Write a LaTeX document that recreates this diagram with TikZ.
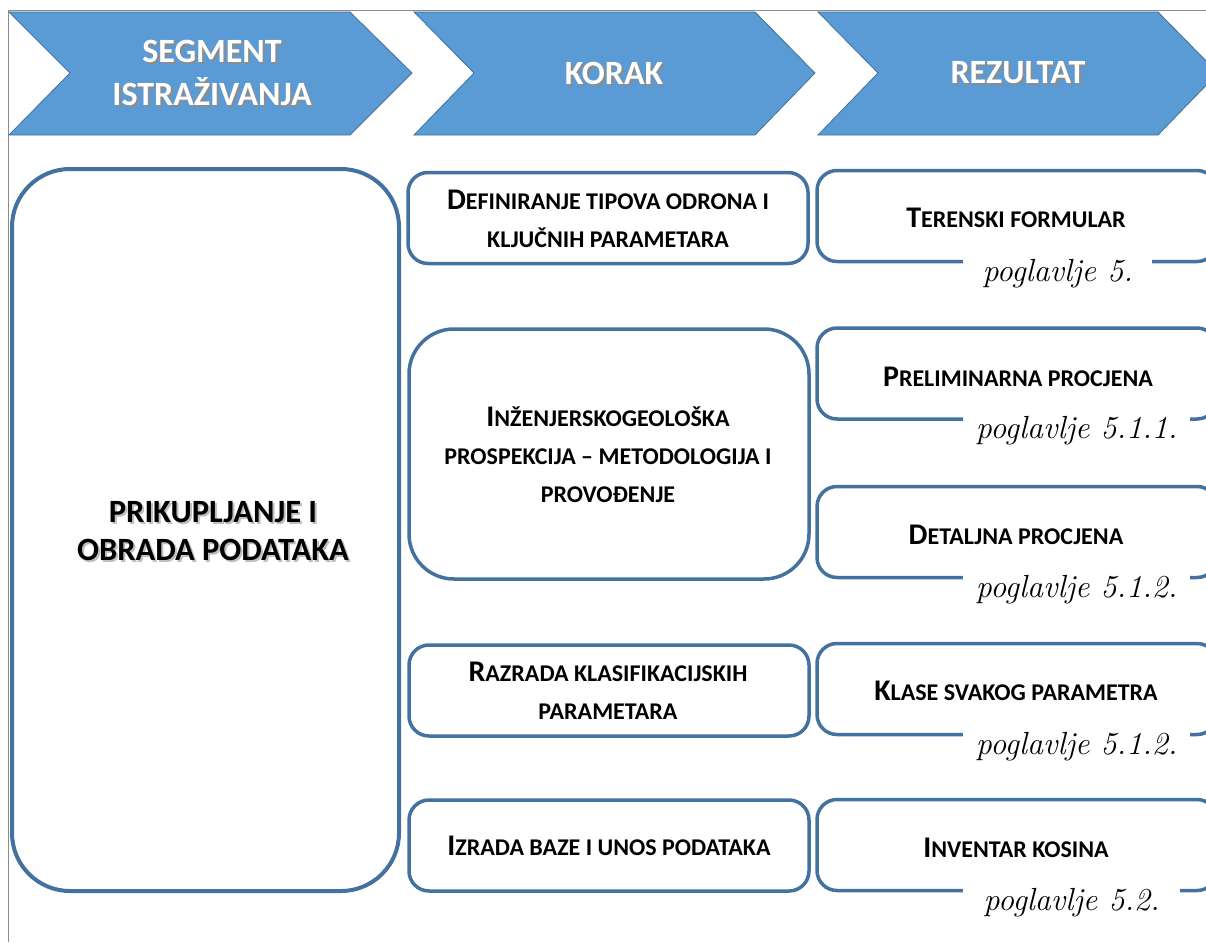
\documentclass[tikz,border=0pt]{standalone}
\usepackage{fontspec}
\newfontfamily\carl{Carlito}
\definecolor{chevfill}{RGB}{91,155,213}
\definecolor{chevline}{RGB}{65,113,156}
\definecolor{boxline}{RGB}{68,114,160}
\newcommand\bigC[1]{{\fontsize{30}{38}\selectfont #1}}
\tikzset{
 chevshape/.style={fill=chevfill, draw=chevline, line width=0.8pt},
 chevtxt/.style={text=white, font=\carl\bfseries\fontsize{34}{43}\selectfont, align=center, inner sep=0pt},
 chevshd/.style={chevtxt, text=black!45},
 bx/.style={draw=boxline, line width=3.5pt, rounded corners=20pt, fill=white, minimum width=400pt, minimum height=91pt, inner sep=0pt},
 bxtxt/.style={font=\carl\bfseries\fontsize{24}{38}\selectfont, align=center},
 segtxt/.style={font=\carl\bfseries\fontsize{32.5}{38}\selectfont, align=center, inner sep=0pt},
 chap/.style={font=\rmfamily\itshape\fontsize{32}{32}\selectfont, fill=white, inner xsep=0pt, inner ysep=5pt, anchor=base west},
 frame/.style={draw=black!45, line width=1pt},
}
\begin{document}
\begin{tikzpicture}[x=1pt,y=-1pt]
\useasboundingbox (0,0) rectangle (1206,942);
\clip (0,0) rectangle (1206,942);
\fill[white] (0,0) rectangle (1206,942);
\draw[frame] (8,942) -- (8,11) -- (1206,11);
% chevrons
\path[chevshape] (9,12) -- (350,12) -- (412,73) -- (350,135) -- (9,135) -- (70,73) -- cycle;
\path[chevshape] (414,12) -- (755,12) -- (815,73) -- (755,135) -- (414,135) -- (474,73) -- cycle;
\path[chevshape] (818,12) -- (1158,12) -- (1218,73) -- (1158,135) -- (818,135) -- (878,73) -- cycle;
\node[chevshd] (h1s) at (214,75) {SEGMENT\\ISTRAŽIVANJA};
\node[chevtxt] (h1) at (212,73) {SEGMENT\\ISTRAŽIVANJA};
\node[chevshd] (h2s) at (616,75) {KORAK};
\node[chevtxt] (h2) at (614,73) {KORAK};
\node[chevshd] (h3s) at (1020,75) {REZULTAT};
\node[chevtxt] (h3) at (1018,73) {REZULTAT};
% segment box
\node[bx, rounded corners=58pt, line width=4pt, minimum width=387pt, minimum height=722pt] (seg) at (205.5,530) {};
\node[segtxt, text=black!25] (segs) at (215,533) {PRIKUPLJANJE I\\OBRADA PODATAKA};
\node[segtxt] (segt) at (213,531) {PRIKUPLJANJE I\\OBRADA PODATAKA};
% steps
\node[bx] (k1) at (608,218) {};
\node[bxtxt] (k1t) at (608,219) {\bigC{D}EFINIRANJE TIPOVA ODRONA I\\KLJUČNIH PARAMETARA};
\node[bx, rounded corners=45pt, minimum height=250pt] (k2) at (609,454) {};
\node[bxtxt] (k2t) at (608,455) {\bigC{I}NŽENJERSKOGEOLOŠKA\\PROSPEKCIJA – METODOLOGIJA I\\PROVOĐENJE};
\node[bx] (k3) at (609,690.5) {};
\node[bxtxt] (k3t) at (608,691) {\bigC{R}AZRADA KLASIFIKACIJSKIH\\PARAMETARA};
\node[bx] (k4) at (609,845.5) {};
\node[bxtxt] (k4t) at (609,846) {\bigC{I}ZRADA BAZE I UNOS PODATAKA};
% results
\node[bx] (r1) at (1017,216) {};
\node[bxtxt] (r1t) at (1016,218) {\bigC{T}ERENSKI FORMULAR};
\node[chap, minimum width=189pt] (c1) at (963,281) {poglavlje 5.};
\node[bx] (r2) at (1017,373.5) {};
\node[bxtxt] (r2t) at (1018,377) {\bigC{P}RELIMINARNA PROCJENA};
\node[chap, minimum width=227pt] (c2) at (963,438) {poglavlje 5.1.1.};
\node[bx] (r3) at (1017,532) {};
\node[bxtxt] (r3t) at (1016,535) {\bigC{D}ETALJNA PROCJENA};
\node[chap, minimum width=227pt] (c3) at (963,597) {poglavlje 5.1.2.};
\node[bx] (r4) at (1017,689) {};
\node[bxtxt] (r4t) at (1016,691) {\bigC{K}LASE SVAKOG PARAMETRA};
\node[chap, minimum width=227pt] (c4) at (963,754) {poglavlje 5.1.2.};
\node[bx] (r5) at (1017,845) {};
\node[bxtxt] (r5t) at (1016,848) {\bigC{I}NVENTAR KOSINA};
\node[chap, minimum width=217pt] (c5) at (963,910) {poglavlje 5.2.};
\end{tikzpicture}
\end{document}
